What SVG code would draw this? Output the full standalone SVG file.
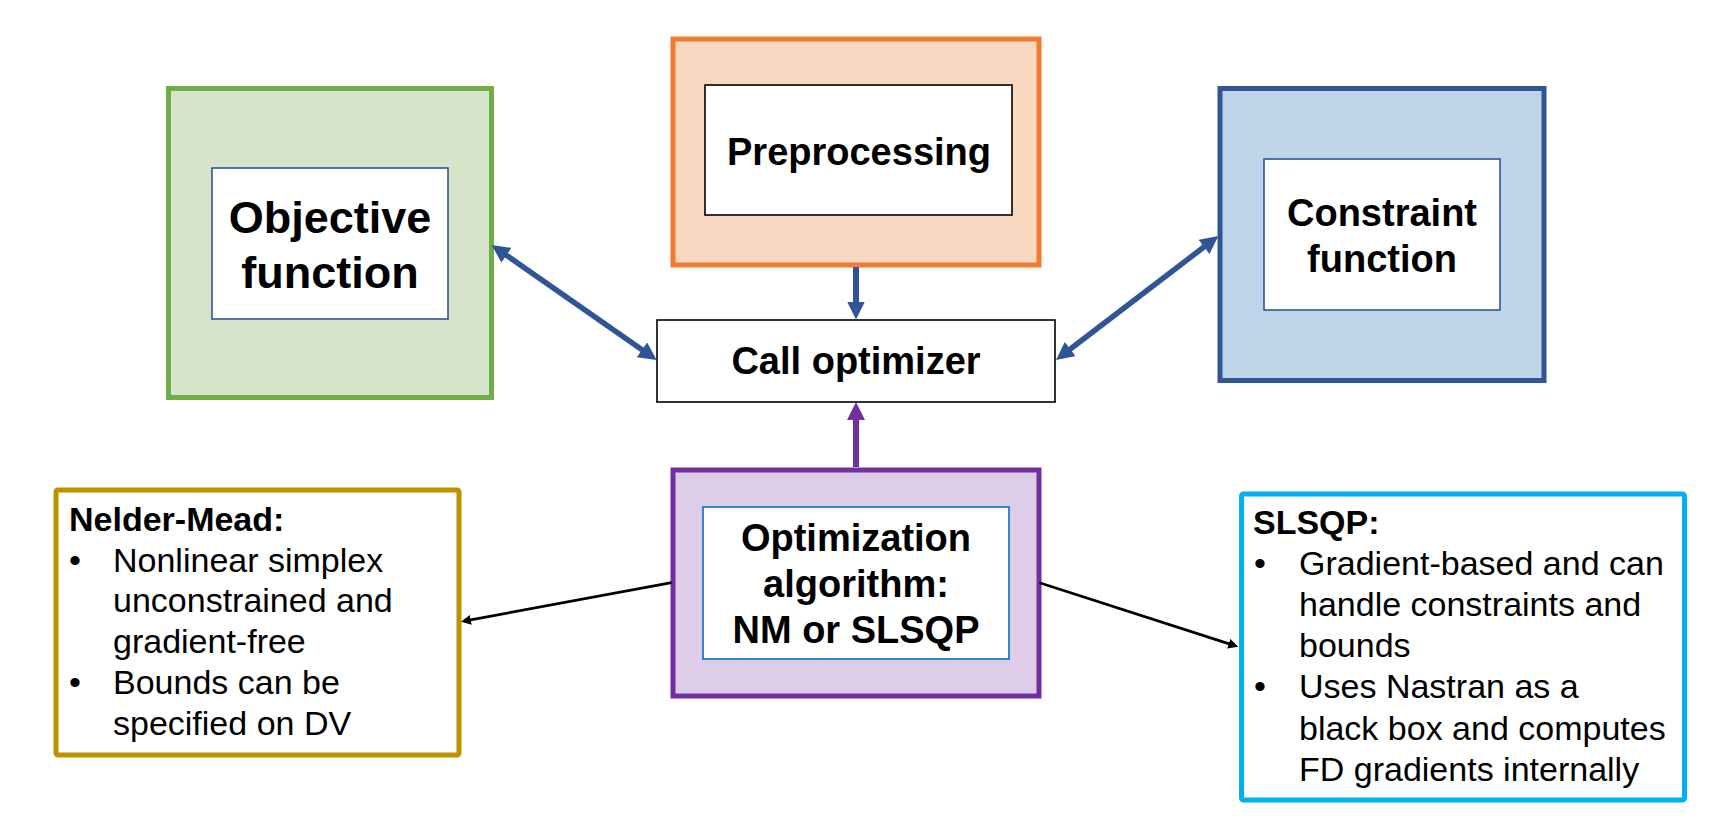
<svg xmlns="http://www.w3.org/2000/svg" width="1729" height="834" viewBox="0 0 1729 834">
<style>
.b{font-family:"Liberation Sans",Arial,sans-serif;font-weight:bold;fill:#000}
.r{font-family:"Liberation Sans",Arial,sans-serif;fill:#000;font-size:34px}
.c{text-anchor:middle}
.inner{fill:#fff;stroke-width:1.6}
.outer{stroke-width:5}
</style>
<defs>
<marker id="hb" markerUnits="userSpaceOnUse" markerWidth="18" markerHeight="18" viewBox="0 0 18 18" refX="4" refY="9" orient="auto-start-reverse"><path d="M0,0 L18,9 L0,18 z" fill="#2F5597"/></marker>
<marker id="hp" markerUnits="userSpaceOnUse" markerWidth="18" markerHeight="18" viewBox="0 0 18 18" refX="4" refY="9" orient="auto"><path d="M0,0 L18,9 L0,18 z" fill="#7030A0"/></marker>
<marker id="hk" markerUnits="userSpaceOnUse" markerWidth="10" markerHeight="10" viewBox="0 0 10 10" refX="3" refY="5" orient="auto"><path d="M0,0 L10,5 L0,10 z" fill="#000"/></marker>
</defs>
<rect width="1729" height="834" fill="#fff"/>

<g id="objective">
<rect class="outer" x="168.5" y="88.5" width="323" height="309" fill="#D6E5CA" stroke="#70AD47"/>
<rect class="inner" x="212" y="168" width="236" height="151" stroke="#2F5597"/>
<text class="b c" x="330" y="233" font-size="45">Objective</text>
<text class="b c" x="330" y="288" font-size="45">function</text>
</g>

<g id="preprocessing">
<rect class="outer" x="673" y="39" width="366" height="226" fill="#F9D8C1" stroke="#ED7D31"/>
<rect class="inner" x="705" y="85" width="307" height="130" stroke="#000"/>
<text class="b c" x="859" y="165" font-size="38">Preprocessing</text>
</g>

<g id="constraint">
<rect class="outer" x="1220" y="88.5" width="324" height="292" fill="#C0D4E9" stroke="#2F5597"/>
<rect class="inner" x="1264" y="159" width="236" height="151" stroke="#2F5597"/>
<text class="b c" x="1382" y="226" font-size="38">Constraint</text>
<text class="b c" x="1382" y="272" font-size="38">function</text>
</g>

<g id="call-optimizer">
<rect class="inner" x="657" y="320" width="398" height="82" stroke="#000"/>
<text class="b c" x="856" y="374" font-size="38">Call optimizer</text>
</g>

<g id="algorithm">
<rect class="outer" x="673" y="470" width="366" height="226" fill="#DDCDE8" stroke="#7030A0"/>
<rect class="inner" x="703" y="507" width="306" height="152" stroke="#0070C0"/>
<text class="b c" x="856" y="551" font-size="38">Optimization</text>
<text class="b c" x="856" y="597" font-size="38">algorithm:</text>
<text class="b c" x="856" y="643" font-size="38">NM or SLSQP</text>
</g>

<g id="nelder-mead">
<rect class="outer" x="56" y="490" width="403" height="265" rx="2" fill="#fff" stroke="#BF9000"/>
<text class="b" x="69" y="531" font-size="34">Nelder-Mead:</text>
<text class="r" x="69" y="572">•</text>
<text class="r" x="113" y="572">Nonlinear simplex</text>
<text class="r" x="113" y="612">unconstrained and</text>
<text class="r" x="113" y="653">gradient-free</text>
<text class="r" x="69" y="694">•</text>
<text class="r" x="113" y="694">Bounds can be</text>
<text class="r" x="113" y="735">specified on DV</text>
</g>

<g id="slsqp">
<rect class="outer" x="1241.5" y="494" width="443" height="306" rx="2" fill="#fff" stroke="#00B0F0"/>
<text class="b" x="1253" y="534" font-size="34">SLSQP:</text>
<text class="r" x="1254" y="575">•</text>
<text class="r" x="1299" y="575">Gradient-based and can</text>
<text class="r" x="1299" y="616">handle constraints and</text>
<text class="r" x="1299" y="657">bounds</text>
<text class="r" x="1254" y="698">•</text>
<text class="r" x="1299" y="698">Uses Nastran as a</text>
<text class="r" x="1299" y="740">black box and computes</text>
<text class="r" x="1299" y="781">FD gradients internally</text>
</g>

<g id="connectors" fill="none">
<line x1="503.2" y1="253" x2="645.2" y2="352" stroke="#2F5597" stroke-width="5.5" marker-start="url(#hb)" marker-end="url(#hb)"/>
<line x1="1067.1" y1="351.5" x2="1207.2" y2="244.5" stroke="#2F5597" stroke-width="5.5" marker-start="url(#hb)" marker-end="url(#hb)"/>
<line x1="856" y1="267" x2="856" y2="305.5" stroke="#2F5597" stroke-width="6" marker-end="url(#hb)"/>
<line x1="856" y1="467" x2="856" y2="416" stroke="#7030A0" stroke-width="6" marker-end="url(#hp)"/>
<line x1="671.5" y1="582.7" x2="467.9" y2="620.4" stroke="#000" stroke-width="2.7" marker-end="url(#hk)"/>
<line x1="1039.5" y1="582.7" x2="1231.6" y2="644.6" stroke="#000" stroke-width="2.7" marker-end="url(#hk)"/>
</g>
</svg>
